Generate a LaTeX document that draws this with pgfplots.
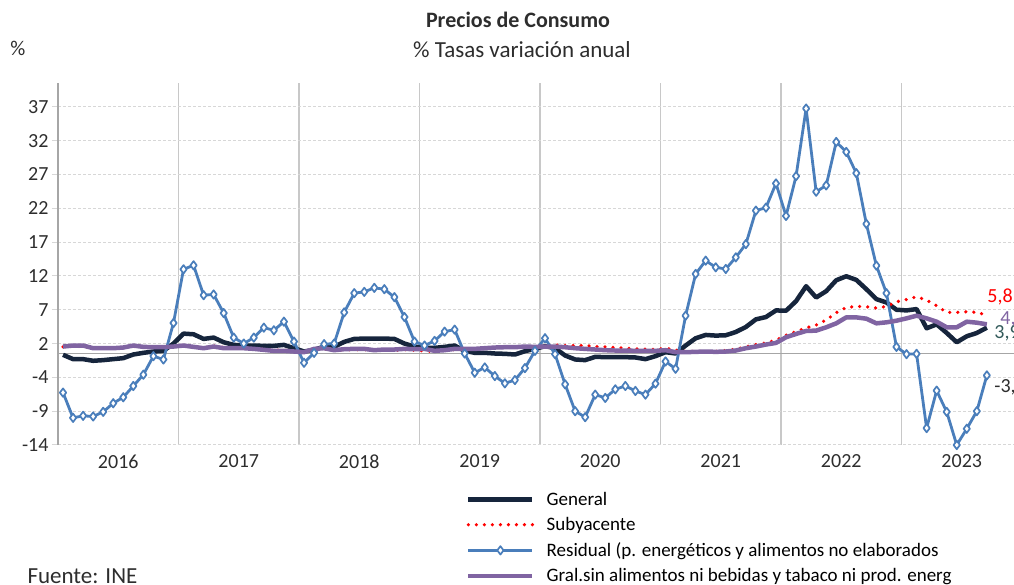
\documentclass[border=0pt]{standalone}
\usepackage{pgfplots}
\usepackage{pgfplotstable}
\pgfplotsset{compat=1.18}
\usepackage{fontspec}
\setmainfont{Carlito}

\definecolor{gen}{RGB}{22,37,60}
\definecolor{resid}{RGB}{74,126,187}
\definecolor{morado}{RGB}{128,100,162}
\definecolor{gridv}{RGB}{200,200,200}
\definecolor{gridh}{RGB}{215,215,215}
\definecolor{ejes}{RGB}{166,166,166}
\definecolor{txt}{RGB}{45,45,45}
\definecolor{lab39}{RGB}{50,90,90}

% month index (0 = ene 2016), General, Subyacente, Residual, Gral. sin alim./energ.
\pgfplotstableread{
i gen sub res pur
0 -0.2 1.0 -5.9 1.05
1 -0.85 1.1 -9.7 1.2
2 -0.85 1.1 -9.4 1.2
3 -1.1 0.8 -9.5 0.8
4 -1.0 0.8 -8.8 0.8
5 -0.85 0.8 -7.5 0.8
6 -0.7 0.9 -6.6 0.9
7 -0.15 1.1 -4.9 1.2
8 0.1 1.0 -3.2 1.0
9 0.3 1.0 -0.4 0.95
10 0.4 1.0 -0.9 0.95
11 1.5 1.1 4.6 1.05
12 3.0 1.2 12.7 1.2
13 2.9 1.0 13.3 1.0
14 2.2 0.8 8.8 0.8
15 2.4 1.1 8.9 1.05
16 1.7 0.9 6.1 0.8
17 1.3 0.9 2.4 0.8
18 1.2 0.8 1.5 0.8
19 1.2 0.7 2.4 0.7
20 1.15 0.6 3.9 0.55
21 1.15 0.5 3.5 0.4
22 1.3 0.5 4.8 0.4
23 0.8 0.3 1.8 0.3
24 0.3 0.2 -1.4 0.2
25 0.55 0.6 0.1 0.7
26 1.05 0.7 1.4 0.8
27 1.0 0.5 1.5 0.5
28 1.75 0.6 6.2 0.65
29 2.2 0.6 9.1 0.7
30 2.25 0.6 9.3 0.7
31 2.25 0.5 9.9 0.5
32 2.25 0.5 9.7 0.6
33 2.2 0.5 8.5 0.6
34 1.5 0.6 5.5 0.7
35 1.05 0.5 1.8 0.65
36 0.85 0.4 1.2 0.7
37 0.85 0.3 1.9 0.4
38 1.0 0.5 3.3 0.5
39 1.2 0.6 3.6 0.7
40 0.4 0.7 0.0 0.7
41 0.1 0.7 -2.9 0.7
42 0.1 0.8 -2.1 0.8
43 0.0 0.9 -3.4 0.9
44 -0.05 0.95 -4.5 0.95
45 -0.15 0.95 -4.0 0.95
46 0.35 1.0 -2.2 1.05
47 0.7 1.0 0.4 1.0
48 1.1 1.1 2.3 1.05
49 0.8 1.3 -0.1 1.05
50 -0.3 1.2 -4.65 0.95
51 -0.9 1.2 -8.7 0.8
52 -1.0 1.2 -9.6 0.7
53 -0.5 1.05 -6.2 0.6
54 -0.55 1.0 -6.7 0.5
55 -0.55 0.9 -5.4 0.45
56 -0.55 0.8 -4.9 0.45
57 -0.6 0.7 -5.65 0.4
58 -0.85 0.65 -6.2 0.4
59 -0.4 0.6 -4.55 0.4
60 0.2 0.8 -1.2 0.5
61 0.0 0.5 -2.3 0.2
62 1.2 0.3 5.7 0.2
63 2.3 0.3 12.0 0.25
64 2.8 0.25 14.0 0.3
65 2.7 0.3 13.0 0.25
66 2.75 0.45 12.75 0.3
67 3.25 0.65 14.5 0.45
68 4.0 1.0 16.5 0.8
69 5.15 1.35 21.55 1.05
70 5.5 1.6 22.0 1.35
71 6.5 2.0 25.65 1.6
72 6.45 2.75 20.75 2.45
73 7.9 3.3 26.75 2.95
74 10.15 3.85 36.95 3.4
75 8.45 4.3 24.4 3.45
76 9.4 5.05 25.35 3.95
77 11.05 6.15 31.9 4.55
78 11.65 6.95 30.4 5.45
79 11.1 7.1 27.2 5.45
80 9.7 7.05 19.55 5.25
81 8.2 6.85 13.25 4.55
82 7.7 7.1 9.1 4.7
83 6.6 7.8 1.0 4.95
84 6.5 8.15 -0.1 5.3
85 6.7 8.55 -0.05 5.7
86 3.8 8.05 -11.25 5.3
87 4.4 7.2 -5.6 4.8
88 3.1 6.2 -8.8 3.95
89 1.7 6.2 -13.8 3.95
90 2.6 6.3 -11.35 4.8
91 3.1 6.2 -8.7 4.65
92 3.9 5.8 -3.3 4.4
}\datos

\begin{document}
\begin{tikzpicture}
\begin{axis}[
  at={(0pt,0pt)}, anchor=south west,
  scale only axis, width=964pt, height=362pt,
  xmin=-0.5, xmax=95.5, ymin=-13.8, ymax=40.8,
  clip=false,
  axis line style={draw=none},
  font=\fontsize{20}{23}\selectfont,
  tick label style={text=txt},
  ytick={-13.8,-8.7,-3.6,1.5,6.6,11.7,16.8,21.9,27,32.1,37.2},
  yticklabels={-14,-9,-4,2,7,12,17,22,27,32,37},
  ytick pos=left, tick align=outside,
  major tick length=6pt,
  ytick style={gridh, line width=1pt},
  xtick={5.5,17.5,29.5,41.5,53.5,65.5,77.5,89.5},
  xticklabels={2016,2017,2018,2019,2020,2021,2022,2023},
  xtick style={draw=none},
  minor xtick={11.5,23.5,35.5,47.5,59.5,71.5,83.5,95.5},
  minor tick style={draw=none},
  xminorgrids=true, ymajorgrids=true,
  minor grid style={gridv, line width=1.3pt},
  major grid style={gridh, line width=1pt, dash pattern=on 3pt off 2pt},
  legend cell align=left,
  legend style={at={(axis description cs:0.4232,-0.124)}, anchor=north west,
    draw=none, fill=none, font=\fontsize{19}{22}\selectfont,
    row sep=6.6pt, column sep=10pt, inner sep=0pt},
  legend image code/.code={\draw[mark repeat=2,mark phase=2,#1] plot coordinates {(0pt,0pt) (32pt,0pt) (64pt,0pt)};},
]
\draw[ejes, line width=1.8pt] (axis cs:-0.5,0) -- (axis cs:95.5,0);
\draw[ejes, line width=1.2pt] (rel axis cs:0,0) -- (rel axis cs:0,1);

\addplot[gen, line width=4.5pt, line join=round] table[x=i, y=gen] {\datos};
\addlegendentry{General}
\addplot[red, line width=3.6pt, line cap=round, dash pattern=on 0pt off 8pt] table[x=i, y=sub] {\datos};
\addlegendentry{Subyacente}
\addplot[resid, line width=2.8pt, line join=round, mark=diamond*,
  mark size=4.2pt, mark options={fill=white, draw=resid, line width=1.7pt}] table[x=i, y=res] {\datos};
\addlegendentry{Residual (p. energéticos y alimentos no elaborados}
\addplot[morado, line width=4.5pt, line join=round] table[x=i, y=pur] {\datos};
\addlegendentry{Gral.sin alimentos ni bebidas y tabaco ni prod. energ}

\node[anchor=west, text=red] at (axis cs:91.7,8.5) {5,8};
\node[anchor=west, text=morado] at (axis cs:93.0,5.1) {4,4};
\node[anchor=west, text=lab39] at (axis cs:92.4,3.0) {3,9};
\node[anchor=west, text=txt] at (axis cs:92.4,-5.05) {-3,3};
\end{axis}

\node[font=\fontsize{22}{26}\selectfont\bfseries, text=txt] at (460pt,425pt) {Precios de Consumo};
\node[font=\fontsize{23}{27}\selectfont, text=txt] at (464pt,395pt) {\% Tasas variación anual};
\node[font=\fontsize{21}{25}\selectfont, text=txt] at (-40pt,397pt) {\%};
\node[font=\fontsize{23}{27}\selectfont, text=txt, anchor=west] at (-34pt,-131pt) {Fuente: INE};

\pgfresetboundingbox
\useasboundingbox (-58pt,-140pt) rectangle (956pt,445pt);
\end{tikzpicture}
\end{document}
